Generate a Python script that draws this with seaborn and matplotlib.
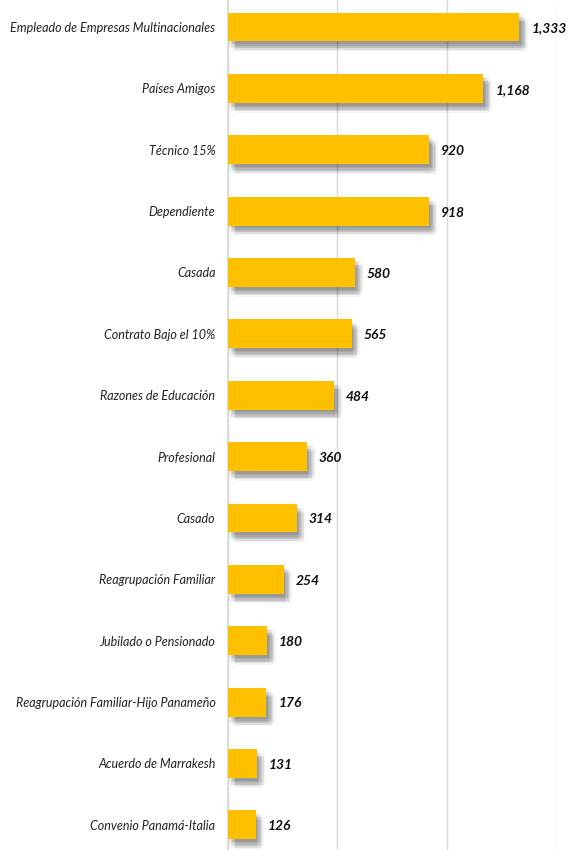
import matplotlib
matplotlib.use("Agg")
import matplotlib.pyplot as plt
import matplotlib.patheffects as pe
import seaborn as sns
import pandas as pd

categories = [
    "Empleado de Empresas Multinacionales",
    "Países Amigos",
    "Técnico 15%",
    "Dependiente",
    "Casada",
    "Contrato Bajo el 10%",
    "Razones de Educación",
    "Profesional",
    "Casado",
    "Reagrupación Familiar",
    "Jubilado o Pensionado",
    "Reagrupación Familiar-Hijo Panameño",
    "Acuerdo de Marrakesh",
    "Convenio Panamá-Italia",
]
values = [1333, 1168, 920, 918, 580, 565, 484, 360, 314, 254, 180, 176, 131, 126]
value_labels = ["1,333", "1,168", "920", "918", "580", "565", "484", "360",
                "314", "254", "180", "176", "131", "126"]

df = pd.DataFrame({"cat": categories, "val": values})

sns.set_theme(style="white")
plt.rcParams["font.family"] = ["Lato", "DejaVu Sans"]

fig = plt.figure(figsize=(5.7, 8.5), dpi=100)
ax = fig.add_axes([228 / 570, 0, 328 / 570, 1])

sns.barplot(data=df, x="val", y="cat", orient="h", color="#FFC000",
            saturation=1, width=0.47, ax=ax, zorder=3)

shadow = []
for dx, dy in [(1, -2), (2, -3), (3, -4), (4, -5), (5, -6), (2, -6), (5, -3),
               (3, -2), (1, -5), (4, -7), (6, -5)]:
    shadow.append(pe.SimplePatchShadow(offset=(dx, dy), shadow_rgbFace="black", alpha=0.045))
shadow.append(pe.Normal())
for p in ax.patches:
    p.set_edgecolor("none")
    p.set_path_effects(shadow)

ax.set_xlim(0, 1500)
ax.set_ylim(13.41, -0.44)
ax.set_xticks([0, 500, 1000, 1500])
ax.xaxis.grid(True, color="#d9d9d9", linewidth=1, zorder=0)
ax.set_xticklabels([])
ax.tick_params(axis="x", length=0)
ax.tick_params(axis="y", length=0, pad=9)
for s in ["top", "right", "bottom"]:
    ax.spines[s].set_visible(False)
ax.spines["left"].set_color("#d9d9d9")
ax.set_xlabel("")
ax.set_ylabel("")
for lab in ax.get_yticklabels():
    lab.set_fontstyle("italic")
    lab.set_fontsize(9)
    lab.set_color("#222222")

for i, (v, t) in enumerate(zip(values, value_labels)):
    ax.annotate(t, (v, i), xytext=(8.5, -1), textcoords="offset points",
                ha="left", va="center", fontsize=10, fontweight="bold",
                fontstyle="italic", color="#111111", clip_on=False, zorder=5)

fig.savefig("out.png", dpi=100)
